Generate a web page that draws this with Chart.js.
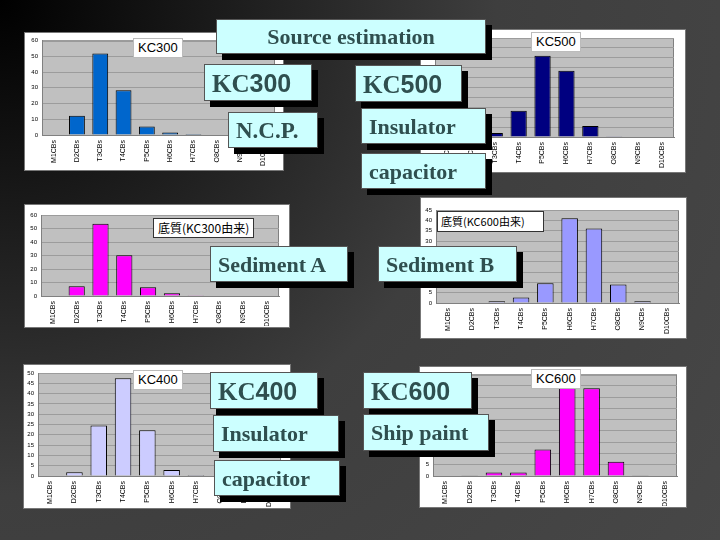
<!DOCTYPE html>
<html>
<head>
<meta charset="utf-8">
<script src="https://cdn.jsdelivr.net/npm/chart.js@4"></script>
<style>
  body { margin: 0; }
  #slide {
    position: relative; width: 720px; height: 540px; overflow: hidden;
    background: radial-gradient(circle at 0 0, #000 0%, #1c1c1c 25%, #3e3e3e 55%, #474747 100%);
  }
  .panel { position: absolute; background: #fff; border: 1px solid #777; }
  .panel canvas { position: absolute; left: 0; top: 0; }
  .tag {
    position: absolute; background: #fff; border: 1px solid #bbb;
    font: 13px "Liberation Sans", Arial, sans-serif; color: #000;
    padding: 0 4px; line-height: 18px; white-space: nowrap;
  }
  .tag.jp { font-family: "Noto Sans CJK JP", sans-serif; font-size: 12px; border-color: #333; }
  .box {
    position: absolute; background: #ccffff; border: 1px solid #555;
    box-shadow: 6px 6px 0 #000; color: #2f4f4f;
    font: bold 22px "Liberation Serif", "Times New Roman", serif;
    box-sizing: border-box; padding-left: 7px; white-space: nowrap;
  }
  .box .num { font-family: "Liberation Sans", Arial, sans-serif; font-weight: bold; }
</style>
</head>
<body>
<div id="slide">
  <div class="panel" style="left:24px;top:32px;width:258px;height:137px"><canvas id="c1" width="258" height="137"></canvas></div>
  <div class="panel" style="left:420px;top:29px;width:264px;height:142px"><canvas id="c2" width="264" height="142"></canvas></div>
  <div class="panel" style="left:24px;top:204px;width:264px;height:122px"><canvas id="c3" width="264" height="122"></canvas></div>
  <div class="panel" style="left:420px;top:197px;width:265px;height:140px"><canvas id="c4" width="265" height="140"></canvas></div>
  <div class="panel" style="left:23px;top:364px;width:266px;height:143px"><canvas id="c5" width="266" height="143"></canvas></div>
  <div class="panel" style="left:419px;top:366px;width:266px;height:140px"><canvas id="c6" width="266" height="140"></canvas></div>

  <div class="tag" style="left:133px;top:38px">KC300</div>
  <div class="tag" style="left:531px;top:32px">KC500</div>
  <div class="tag jp" style="left:153px;top:218px">底質(KC300由来)</div>
  <div class="tag jp" style="left:437px;top:211px;font-size:11px;line-height:19px;padding:0 18px 0 3px">底質(KC600由来)</div>
  <div class="tag" style="left:133px;top:370px">KC400</div>
  <div class="tag" style="left:531px;top:369px">KC600</div>

  <div class="box" style="left:216px;top:19px;width:270px;height:35px;text-align:center;padding:0;line-height:34px">Source estimation</div>
  <div class="box" style="left:204px;top:64px;width:108px;height:37px;line-height:36px;font-size:25px">KC<span class="num">300</span></div>
  <div class="box" style="left:228px;top:112px;width:90px;height:36px;line-height:36px;font-size:23px">N.C.P.</div>
  <div class="box" style="left:355px;top:65px;width:107px;height:37px;line-height:36px;font-size:25px">KC<span class="num">500</span></div>
  <div class="box" style="left:361px;top:108px;width:125px;height:36px;line-height:36px">Insulator</div>
  <div class="box" style="left:361px;top:153px;width:125px;height:36px;line-height:36px">capacitor</div>
  <div class="box" style="left:210px;top:246px;width:138px;height:36px;line-height:36px">Sediment A</div>
  <div class="box" style="left:378px;top:246px;width:139px;height:36px;line-height:36px">Sediment B</div>
  <div class="box" style="left:210px;top:372px;width:108px;height:37px;line-height:36px;font-size:25px">KC<span class="num">400</span></div>
  <div class="box" style="left:213px;top:415px;width:126px;height:37px;line-height:36px">Insulator</div>
  <div class="box" style="left:214px;top:460px;width:126px;height:36px;line-height:36px">capacitor</div>
  <div class="box" style="left:363px;top:372px;width:109px;height:37px;line-height:36px;font-size:25px">KC<span class="num">600</span></div>
  <div class="box" style="left:363px;top:414px;width:126px;height:37px;line-height:36px">Ship paint</div>
</div>
<script>
const categories = ['M1CBs', 'D2CBs', 'T3CBs', 'T4CBs', 'P5CBs', 'H6CBs', 'H7CBs', 'O8CBs', 'N9CBs', 'D10CBs'];

const kc300 = [0, 12.3, 51.8, 28.4, 5.4, 1.6, 0.6, 0, 0, 0];
const kc500 = [0, 0, 2, 13.3, 41, 33.5, 5.5, 0.4, 0, 0];
const sedimentA = [0, 7.2, 53.6, 30.1, 6.4, 2.1, 0.6, 0, 0, 0];
const sedimentB = [0, 0, 0.8, 2.7, 9.5, 41, 36, 9, 0.8, 0];
const kc400 = [0, 1.8, 24.5, 47.5, 22.2, 2.9, 0.5, 0, 0, 0];
const kc600 = [0, 0.3, 1.6, 1.6, 11.8, 42, 38.9, 6.3, 0.3, 0];

const plotBg = {
  id: 'plotBg',
  beforeDraw(chart) {
    const a = chart.chartArea, c = chart.ctx;
    c.save();
    c.fillStyle = '#c0c0c0';
    c.fillRect(a.left, a.top, a.right - a.left, a.bottom - a.top);
    c.strokeStyle = '#808080';
    c.lineWidth = 1;
    c.strokeRect(a.left + 0.5, a.top + 0.5, a.right - a.left - 1, a.bottom - a.top);
    c.restore();
  }
};

function makeChart(id, values, color, yMax, yStep, pad, yWidth, xHeight) {
  new Chart(document.getElementById(id), {
    type: 'bar',
    data: {
      labels: categories,
      datasets: [{
        data: values,
        backgroundColor: color,
        borderColor: '#000',
        borderWidth: 1,
        borderSkipped: 'bottom',
        categoryPercentage: 1,
        barPercentage: 0.68
      }]
    },
    options: {
      responsive: false,
      animation: false,
      layout: { padding: pad },
      plugins: { legend: { display: false }, tooltip: { enabled: false } },
      scales: {
        x: {
          grid: { display: false, drawTicks: false },
          border: { color: '#808080' },
          ticks: { color: '#000', font: { size: 7, family: 'Liberation Sans' }, minRotation: 90, maxRotation: 90, padding: 5, autoSkip: false },
          afterFit: s => { s.height = xHeight; }
        },
        y: {
          min: 0, max: yMax,
          grid: { color: '#9c9c9c', drawTicks: false },
          border: { color: '#808080' },
          ticks: { stepSize: yStep, color: '#000', font: { size: 6, family: 'Liberation Sans' }, padding: 4, autoSkip: false },
          afterFit: s => { s.width = yWidth; }
        }
      }
    },
    plugins: [plotBg]
  });
}

makeChart('c1', kc300, '#0066cc', 60, 10, { top: 7, right: 8, bottom: 1, left: 0 }, 17, 34);
makeChart('c2', kc500, '#000080', 50, 5, { top: 8, right: 11, bottom: 1, left: 0 }, 14, 34);
makeChart('c3', sedimentA, '#ff00ff', 60, 10, { top: 10, right: 10, bottom: 1, left: 0 }, 16, 30);
makeChart('c4', sedimentB, '#9999ff', 45, 5, { top: 12, right: 7, bottom: 1, left: 0 }, 15, 34);
makeChart('c5', kc400, '#ccccff', 50, 5, { top: 8, right: 9, bottom: 1, left: 0 }, 14, 31);
makeChart('c6', kc600, '#ff00ff', 45, 5, { top: 6, right: 9, bottom: 1, left: 0 }, 13, 30);
</script>
</body>
</html>
